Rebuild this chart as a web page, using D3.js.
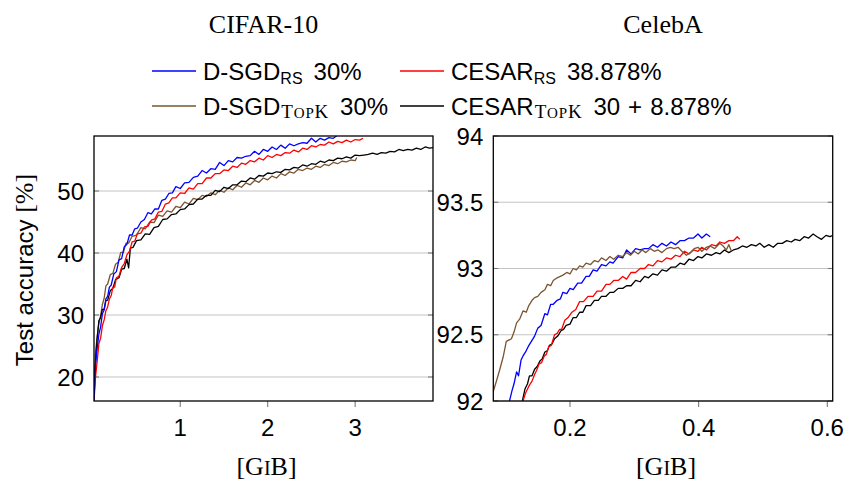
<!DOCTYPE html>
<html>
<head>
<meta charset="utf-8">
<script src="https://cdn.jsdelivr.net/npm/d3@7"></script>
<style>
  body { margin: 0; background: #fff; }
</style>
</head>
<body>
<div id="chart"></div>
<script>
const width = 848, height = 482;

// CIFAR-10 curves, [GiB, accuracy %]
const cifarDsgdRs = [[0.014,16.2],[0.03,21.8],[0.05,24.6],[0.07,26.9],[0.09,28.1],[0.11,30.2],[0.13,30.8],[0.15,32.6],[0.17,33.0],[0.19,34.5],[0.21,34.8],[0.24,36.6],[0.27,37.0],[0.30,38.9],[0.33,39.1],[0.36,41.0],[0.39,41.4],[0.42,42.9],[0.45,42.9],[0.48,43.9],[0.51,44.0],[0.55,45.0],[0.59,45.4],[0.63,46.5],[0.67,46.3],[0.71,47.1],[0.75,47.1],[0.79,48.5],[0.83,48.7],[0.87,49.6],[0.91,49.7],[0.95,50.7],[1.00,50.4],[1.05,51.3],[1.10,51.4],[1.15,52.2],[1.20,52.4],[1.25,53.3],[1.30,52.9],[1.35,53.6],[1.40,53.5],[1.45,54.6],[1.50,54.1],[1.55,54.9],[1.60,54.7],[1.65,55.4],[1.70,55.3],[1.75,55.6],[1.80,55.7],[1.85,56.4],[1.90,55.9],[1.95,56.7],[2.00,56.4],[2.05,57.1],[2.10,56.7],[2.15,57.4],[2.20,56.9],[2.25,57.6],[2.30,57.3],[2.35,57.6],[2.40,57.8],[2.45,57.7],[2.50,58.5],[2.55,57.9],[2.60,58.5],[2.65,58.2],[2.70,58.6],[2.75,58.5],[2.79,58.9]];
const cifarCesarRs = [[0.014,16.0],[0.03,19.8],[0.05,22.5],[0.07,25.4],[0.09,26.3],[0.11,28.3],[0.13,29.2],[0.15,30.7],[0.17,31.3],[0.19,32.6],[0.21,33.1],[0.23,34.5],[0.25,34.5],[0.27,36.0],[0.30,36.3],[0.33,37.7],[0.36,38.3],[0.39,39.7],[0.42,40.3],[0.45,41.8],[0.48,41.9],[0.51,43.1],[0.55,43.2],[0.59,44.2],[0.63,44.3],[0.67,45.3],[0.71,45.5],[0.75,46.6],[0.79,46.7],[0.83,47.9],[0.87,48.1],[0.91,48.9],[0.95,48.9],[1.00,49.7],[1.05,49.6],[1.10,50.5],[1.15,50.3],[1.20,51.2],[1.25,51.2],[1.30,52.1],[1.35,52.1],[1.40,52.8],[1.45,52.8],[1.50,53.4],[1.55,53.3],[1.60,54.0],[1.65,53.8],[1.70,54.5],[1.75,54.3],[1.80,54.9],[1.85,54.7],[1.90,55.3],[1.95,55.0],[2.00,55.7],[2.05,55.4],[2.10,55.9],[2.15,55.7],[2.20,56.2],[2.25,56.1],[2.30,56.6],[2.35,56.3],[2.40,56.9],[2.45,56.7],[2.50,57.3],[2.55,57.1],[2.60,57.5],[2.65,57.4],[2.70,57.9],[2.75,57.6],[2.80,58.0],[2.85,57.8],[2.90,58.2],[2.95,57.9],[3.00,58.3],[3.05,58.2],[3.09,58.5]];
const cifarDsgdTopk = [[0.014,17.0],[0.03,23.8],[0.05,26.5],[0.07,28.7],[0.09,29.9],[0.11,31.7],[0.13,32.7],[0.15,34.7],[0.17,35.0],[0.20,36.5],[0.23,36.7],[0.26,38.2],[0.29,38.5],[0.32,40.1],[0.35,40.1],[0.38,41.6],[0.41,41.6],[0.45,42.7],[0.50,42.9],[0.55,44.1],[0.60,43.9],[0.65,45.0],[0.70,44.9],[0.75,46.1],[0.80,45.9],[0.85,46.8],[0.90,46.6],[0.95,47.5],[1.00,47.3],[1.05,48.2],[1.10,47.9],[1.15,48.8],[1.20,48.6],[1.25,49.3],[1.30,49.1],[1.35,49.7],[1.40,49.4],[1.45,50.1],[1.50,49.8],[1.55,50.5],[1.60,50.2],[1.65,50.9],[1.70,50.6],[1.75,51.3],[1.80,51.0],[1.85,51.7],[1.90,51.4],[1.95,52.1],[2.00,51.8],[2.05,52.4],[2.10,52.1],[2.15,52.8],[2.20,52.5],[2.25,53.1],[2.30,52.9],[2.35,53.5],[2.40,53.3],[2.45,53.7],[2.50,53.5],[2.55,54.0],[2.60,53.8],[2.65,54.3],[2.70,54.1],[2.75,54.6],[2.80,54.4],[2.85,54.8],[2.90,54.7],[2.95,55.0],[3.00,54.9],[3.02,55.4]];
const cifarCesarTopk = [[0.014,16.5],[0.03,22.3],[0.05,26.2],[0.07,29.1],[0.09,29.6],[0.11,30.9],[0.13,30.9],[0.15,32.3],[0.17,32.4],[0.20,33.9],[0.23,34.3],[0.26,35.7],[0.30,36.0],[0.33,37.4],[0.36,37.5],[0.39,39.0],[0.41,37.6],[0.43,40.8],[0.46,40.9],[0.50,42.0],[0.55,42.1],[0.60,43.1],[0.65,43.0],[0.70,44.1],[0.75,44.3],[0.80,45.4],[0.85,45.5],[0.90,46.2],[0.95,46.3],[1.00,47.0],[1.05,47.1],[1.10,47.8],[1.15,47.9],[1.20,48.7],[1.25,48.7],[1.30,49.3],[1.35,49.3],[1.40,50.1],[1.45,49.9],[1.50,50.6],[1.55,50.4],[1.60,51.0],[1.65,51.0],[1.70,51.6],[1.75,51.5],[1.80,52.1],[1.85,51.9],[1.90,52.5],[1.95,52.4],[2.00,52.9],[2.05,52.8],[2.10,53.1],[2.15,53.0],[2.20,53.5],[2.25,53.4],[2.30,53.8],[2.35,53.7],[2.40,54.2],[2.45,54.0],[2.50,54.4],[2.55,54.3],[2.60,54.8],[2.65,54.6],[2.70,55.0],[2.75,54.9],[2.80,55.3],[2.85,55.2],[2.90,55.5],[2.95,55.3],[3.00,55.8],[3.05,55.7],[3.10,55.8],[3.15,55.9],[3.20,56.1],[3.25,55.9],[3.30,56.2],[3.35,56.1],[3.40,56.4],[3.45,56.3],[3.50,56.7],[3.55,56.5],[3.60,56.7],[3.65,56.6],[3.70,56.9],[3.75,56.7],[3.80,57.1],[3.85,56.9],[3.89,57.0]];

// CelebA curves
const celebDsgdRs = [[0.106,92.00],[0.110,92.08],[0.113,92.13],[0.117,92.22],[0.120,92.19],[0.124,92.31],[0.127,92.34],[0.131,92.37],[0.135,92.41],[0.140,92.45],[0.145,92.49],[0.150,92.55],[0.155,92.57],[0.161,92.66],[0.165,92.65],[0.170,92.73],[0.174,92.73],[0.180,92.76],[0.185,92.77],[0.189,92.82],[0.195,92.81],[0.200,92.85],[0.205,92.84],[0.212,92.89],[0.218,92.89],[0.225,92.94],[0.230,92.94],[0.236,92.99],[0.242,92.98],[0.249,93.03],[0.256,93.02],[0.262,93.05],[0.267,93.04],[0.275,93.09],[0.282,93.08],[0.288,93.14],[0.295,93.11],[0.302,93.15],[0.309,93.14],[0.316,93.15],[0.322,93.15],[0.329,93.18],[0.336,93.16],[0.343,93.19],[0.350,93.17],[0.357,93.20],[0.364,93.18],[0.371,93.21],[0.378,93.21],[0.385,93.23],[0.392,93.23],[0.399,93.26],[0.405,93.23],[0.412,93.26],[0.418,93.24]];
const celebCesarRs = [[0.127,92.00],[0.131,92.06],[0.134,92.09],[0.137,92.12],[0.141,92.15],[0.145,92.20],[0.148,92.23],[0.152,92.28],[0.156,92.29],[0.160,92.34],[0.163,92.35],[0.167,92.41],[0.171,92.42],[0.176,92.50],[0.180,92.51],[0.184,92.54],[0.187,92.54],[0.192,92.61],[0.197,92.63],[0.203,92.67],[0.209,92.69],[0.215,92.75],[0.221,92.75],[0.228,92.79],[0.236,92.79],[0.242,92.83],[0.249,92.83],[0.256,92.88],[0.262,92.88],[0.268,92.91],[0.275,92.91],[0.282,92.94],[0.288,92.92],[0.295,92.97],[0.302,92.97],[0.309,93.00],[0.316,93.00],[0.322,93.03],[0.329,93.02],[0.336,93.06],[0.343,93.05],[0.350,93.08],[0.357,93.07],[0.364,93.10],[0.371,93.09],[0.378,93.13],[0.385,93.11],[0.392,93.14],[0.399,93.13],[0.405,93.16],[0.412,93.14],[0.420,93.18],[0.427,93.17],[0.433,93.20],[0.440,93.19],[0.447,93.21],[0.454,93.21],[0.460,93.24],[0.464,93.22]];
const celebDsgdTopk = [[0.080,92.06],[0.085,92.14],[0.091,92.24],[0.096,92.33],[0.101,92.45],[0.105,92.46],[0.109,92.47],[0.113,92.52],[0.117,92.59],[0.122,92.62],[0.127,92.68],[0.132,92.67],[0.136,92.72],[0.141,92.76],[0.145,92.78],[0.150,92.79],[0.155,92.82],[0.161,92.84],[0.165,92.88],[0.170,92.87],[0.174,92.91],[0.180,92.93],[0.185,92.94],[0.189,92.95],[0.195,92.97],[0.200,92.96],[0.205,93.00],[0.210,92.99],[0.215,93.02],[0.220,93.01],[0.225,93.04],[0.232,93.03],[0.238,93.06],[0.244,93.05],[0.249,93.08],[0.256,93.06],[0.262,93.09],[0.268,93.07],[0.275,93.10],[0.282,93.09],[0.288,93.12],[0.294,93.10],[0.300,93.13],[0.306,93.11],[0.312,93.14],[0.318,93.12],[0.325,93.15],[0.331,93.13],[0.337,93.14],[0.343,93.12],[0.350,93.15],[0.356,93.16],[0.362,93.15],[0.368,93.16],[0.374,93.13],[0.381,93.10],[0.387,93.12],[0.393,93.15],[0.399,93.16],[0.405,93.13],[0.412,93.16],[0.418,93.17],[0.425,93.15],[0.433,93.19],[0.438,93.17],[0.443,93.14],[0.447,93.18],[0.451,93.13]];
const celebCesarTopk = [[0.126,92.00],[0.130,92.09],[0.134,92.13],[0.137,92.19],[0.141,92.19],[0.145,92.24],[0.149,92.26],[0.153,92.30],[0.157,92.32],[0.161,92.37],[0.165,92.38],[0.168,92.42],[0.172,92.43],[0.176,92.47],[0.181,92.49],[0.186,92.53],[0.190,92.54],[0.194,92.57],[0.200,92.58],[0.205,92.63],[0.210,92.63],[0.215,92.67],[0.220,92.67],[0.225,92.72],[0.232,92.72],[0.238,92.76],[0.244,92.76],[0.249,92.79],[0.256,92.79],[0.262,92.82],[0.268,92.82],[0.275,92.85],[0.282,92.85],[0.288,92.87],[0.295,92.87],[0.302,92.91],[0.309,92.90],[0.316,92.94],[0.322,92.93],[0.329,92.96],[0.336,92.95],[0.343,92.99],[0.350,92.98],[0.357,93.01],[0.364,93.01],[0.371,93.04],[0.378,93.03],[0.385,93.07],[0.392,93.06],[0.399,93.09],[0.405,93.08],[0.412,93.11],[0.420,93.10],[0.427,93.12],[0.433,93.11],[0.440,93.14],[0.447,93.12],[0.454,93.14],[0.461,93.15],[0.468,93.17],[0.475,93.16],[0.482,93.18],[0.489,93.17],[0.495,93.19],[0.502,93.16],[0.509,93.18],[0.516,93.16],[0.523,93.19],[0.530,93.19],[0.537,93.21],[0.544,93.20],[0.550,93.22],[0.557,93.21],[0.564,93.24],[0.571,93.23],[0.578,93.26],[0.584,93.24],[0.591,93.22],[0.598,93.25],[0.604,93.24],[0.609,93.25]];

const cifarXTicks = [1, 2, 3];
const cifarYTicks = [20, 30, 40, 50];
const celebXTicks = [0.2, 0.4, 0.6];
const celebYTicks = [92, 92.5, 93, 93.5, 94];

const colors = {dsgdRs: "#0000ff", cesarRs: "#ff0000", dsgdTopk: "#7a5532", cesarTopk: "#000000"};

const sans = "'Liberation Sans', Arial, sans-serif";
const serif = "'Liberation Serif', 'Times New Roman', serif";

const svg = d3.select("#chart").append("svg")
    .attr("width", width)
    .attr("height", height)
    .style("font-family", sans);

function panel(opts) {
    const x = d3.scaleLinear().domain(opts.xDomain).range([opts.left, opts.right]);
    const y = d3.scaleLinear().domain(opts.yDomain).range([401, 136]);
    const g = svg.append("g");

    g.append("clipPath").attr("id", opts.id)
      .append("rect")
        .attr("x", opts.left).attr("y", 136)
        .attr("width", opts.right - opts.left).attr("height", 265);

    // grid
    g.selectAll(".grid")
      .data(opts.yTicks)
      .enter().append("line")
        .attr("x1", opts.left).attr("x2", opts.right)
        .attr("y1", d => y(d)).attr("y2", d => y(d))
        .style("stroke", "#c4c4c4")
        .style("stroke-width", 1.1);

    // little ticks on both sides
    [opts.left, opts.right - 5].forEach(function(x0) {
        g.selectAll(null)
          .data(opts.yTicks)
          .enter().append("line")
            .attr("x1", x0).attr("x2", x0 + 5)
            .attr("y1", d => y(d)).attr("y2", d => y(d))
            .style("stroke", "#7a7a7a")
            .style("stroke-width", 1.1);
    });
    g.selectAll(null)
      .data(opts.xTicks)
      .enter().append("line")
        .attr("x1", d => x(d)).attr("x2", d => x(d))
        .attr("y1", 401).attr("y2", 407)
        .style("stroke", "#7a7a7a")
        .style("stroke-width", 1.1);

    const line = d3.line().x(d => x(d[0])).y(d => y(d[1]));
    g.append("g").attr("clip-path", "url(#" + opts.id + ")")
      .selectAll("path")
      .data(opts.series)
      .enter().append("path")
        .attr("d", d => line(d.values))
        .style("fill", "none")
        .style("stroke", d => d.color)
        .style("stroke-width", 1.3)
        .style("stroke-linejoin", "round");

    g.append("rect")
        .attr("x", opts.left).attr("y", 136)
        .attr("width", opts.right - opts.left).attr("height", 265)
        .style("fill", "none")
        .style("stroke", "#000")
        .style("stroke-width", 1.3);

    g.selectAll(".ytl")
      .data(opts.yTicks)
      .enter().append("text")
        .attr("x", opts.left - 10)
        .attr("y", d => y(d))
        .attr("dy", "0.36em")
        .attr("text-anchor", "end")
        .style("font-size", "24px")
        .text(d => d);

    g.selectAll(".xtl")
      .data(opts.xTicks)
      .enter().append("text")
        .attr("x", d => x(d))
        .attr("y", 436)
        .attr("text-anchor", "middle")
        .style("font-size", "24px")
        .text(d => d);

    const cx = (opts.left + opts.right) / 2;
    g.append("text")
        .attr("x", cx).attr("y", 33)
        .attr("text-anchor", "middle")
        .style("font-family", serif)
        .style("font-size", "26px")
        .text(opts.title);

    const xl = g.append("text")
        .attr("x", cx + 3).attr("y", 475)
        .attr("text-anchor", "middle")
        .style("font-family", serif)
        .style("font-size", "26px");
    xl.append("tspan").text("[G");
    xl.append("tspan").style("font-size", "20px").text("I");
    xl.append("tspan").text("B]");
}

panel({
    id: "clipCifar", title: "CIFAR-10",
    left: 94, right: 433,
    xDomain: [0.014, 3.89], yDomain: [16.13, 58.87],
    xTicks: cifarXTicks, yTicks: cifarYTicks,
    series: [
        {values: cifarDsgdTopk, color: colors.dsgdTopk},
        {values: cifarCesarTopk, color: colors.cesarTopk},
        {values: cifarCesarRs, color: colors.cesarRs},
        {values: cifarDsgdRs, color: colors.dsgdRs}
    ]
});

panel({
    id: "clipCeleb", title: "CelebA",
    left: 493.3, right: 832.7,
    xDomain: [0.0808, 0.6084], yDomain: [92, 94],
    xTicks: celebXTicks, yTicks: celebYTicks,
    series: [
        {values: celebCesarTopk, color: colors.cesarTopk},
        {values: celebCesarRs, color: colors.cesarRs},
        {values: celebDsgdRs, color: colors.dsgdRs},
        {values: celebDsgdTopk, color: colors.dsgdTopk}
    ]
});

// y axis label
const yl = svg.append("text")
    .attr("transform", "translate(33,270) rotate(-90)")
    .attr("text-anchor", "middle")
    .style("font-size", "24px");
yl.append("tspan").text("Test accuracy ");
yl.append("tspan").style("font-family", serif).style("font-size", "26px").text("[%]");

// legend
const legendItems = [
    {name: "D-SGD", sub: "RS", rest: ["30%"], color: colors.dsgdRs, x: 152, y: 71},
    {name: "CESAR", sub: "RS", rest: ["38.878%"], color: colors.cesarRs, x: 400, y: 71},
    {name: "D-SGD", sub: "TopK", rest: ["30%"], color: colors.dsgdTopk, x: 152, y: 106},
    {name: "CESAR", sub: "TopK", rest: ["30", "+", "8.878%"], color: colors.cesarTopk, x: 400, y: 106}
];

const leg = svg.selectAll(".legend")
    .data(legendItems)
    .enter().append("g");

leg.append("line")
    .attr("x1", d => d.x).attr("x2", d => d.x + 44)
    .attr("y1", d => d.y).attr("y2", d => d.y)
    .style("stroke", d => d.color)
    .style("stroke-width", 1.5);

leg.each(function(d) {
    const t = d3.select(this).append("text")
        .attr("x", d.x + 51)
        .attr("y", d.y + 9)
        .style("font-size", "24px");
    t.append("tspan").text(d.name);
    let back;
    if (d.sub === "RS") {
        t.append("tspan").attr("dy", 4).style("font-size", "16px").text("RS");
        back = -4;
    } else {
        const s = t.append("tspan").attr("dy", 3).attr("dx", 1)
            .style("font-family", serif).style("letter-spacing", "0.8px");
        s.append("tspan").style("font-size", "19px").text("T");
        s.append("tspan").style("font-size", "15px").text("OP");
        s.append("tspan").style("font-size", "19px").text("K");
        back = -3;
    }
    d.rest.forEach(function(part, i) {
        t.append("tspan")
            .attr("dy", i === 0 ? back : 0)
            .attr("dx", i === 0 ? 11 : 8)
            .text(part);
    });
});
</script>
</body>
</html>
